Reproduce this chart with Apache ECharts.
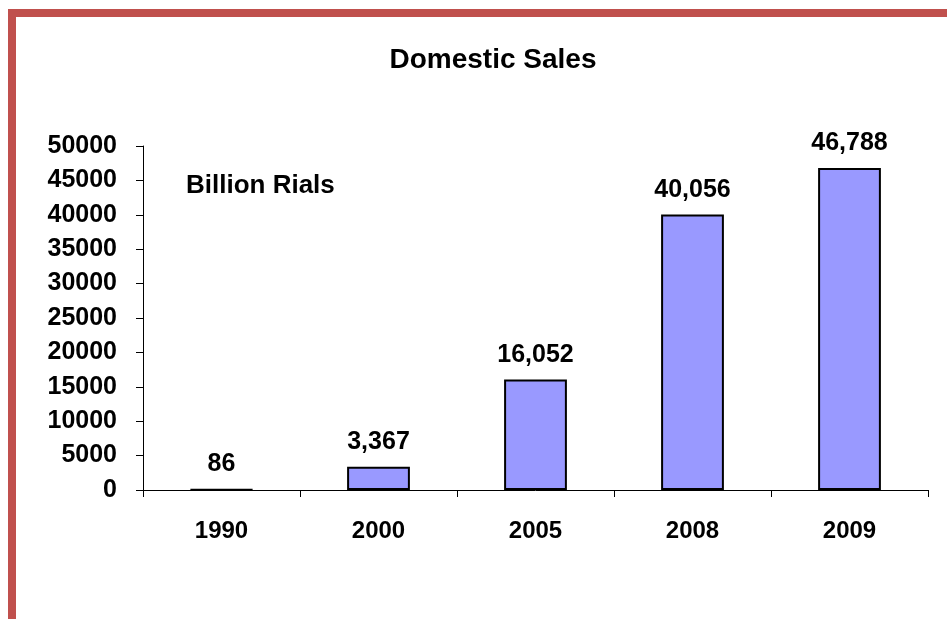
<!DOCTYPE html>
<html><head><meta charset="utf-8">
<script src="https://cdn.jsdelivr.net/npm/echarts@6/dist/echarts.min.js"></script>
<style>html,body{margin:0;padding:0;background:#fff}#c{width:947px;height:619px}</style>
</head><body><div id="c"></div>
<script>
const categories = ['1990', '2000', '2005', '2008', '2009'];
const sales = [86, 3367, 16052, 40056, 46788];
const yTicks = [0, 5000, 10000, 15000, 20000, 25000, 30000, 35000, 40000, 45000, 50000];

const chart = echarts.init(document.getElementById('c'), null, {renderer: 'canvas'});
const F = 'Liberation Sans, Arial, sans-serif';
chart.setOption({
  animation: false,
  backgroundColor: '#fff',
  title: {
    text: 'Domestic Sales', left: 488, top: 41, textAlign: 'center',
    textStyle: {fontFamily: F, fontWeight: 'bold', fontSize: 28, color: '#000'}
  },
  graphic: [
    {type: 'rect', shape: {x: 8, y: 9, width: 939, height: 8}, style: {fill: '#C0504D'}, silent: true},
    {type: 'rect', shape: {x: 8, y: 9, width: 8, height: 610}, style: {fill: '#C0504D'}, silent: true},
    {type: 'text', left: 186, top: 173, style: {text: 'Billion Rials', fontFamily: F, fontWeight: 'bold', fontSize: 26, fill: '#000'}}
  ],
  grid: {left: 143, right: 19, top: 146, bottom: 129, containLabel: false},
  xAxis: {
    type: 'category', data: categories,
    axisLine: {lineStyle: {color: '#000', width: 1}},
    axisTick: {show: true, length: 7, inside: false, alignWithLabel: false, lineStyle: {color: '#000'}},
    axisLabel: {margin: 29, fontFamily: F, fontWeight: 'bold', fontSize: 24, color: '#000'},
    splitLine: {show: false}
  },
  yAxis: {
    type: 'value', min: 0, max: yTicks[yTicks.length - 1], interval: yTicks[1] - yTicks[0],
    axisLine: {show: true, lineStyle: {color: '#000', width: 1}},
    axisTick: {show: true, length: 7, lineStyle: {color: '#000'}},
    axisLabel: {margin: 26, fontFamily: F, fontWeight: 'bold', fontSize: 25, color: '#000', formatter: v => String(v)},
    splitLine: {show: false}
  },
  series: [{
    type: 'bar', data: sales, barWidth: '40%',
    itemStyle: {color: '#9999FF', borderColor: '#000', borderWidth: 2},
    label: {
      show: true, position: 'top', distance: 12,
      fontFamily: F, fontWeight: 'bold', fontSize: 25, color: '#000',
      formatter: p => p.value.toLocaleString('en-US')
    }
  }]
});
</script></body></html>
